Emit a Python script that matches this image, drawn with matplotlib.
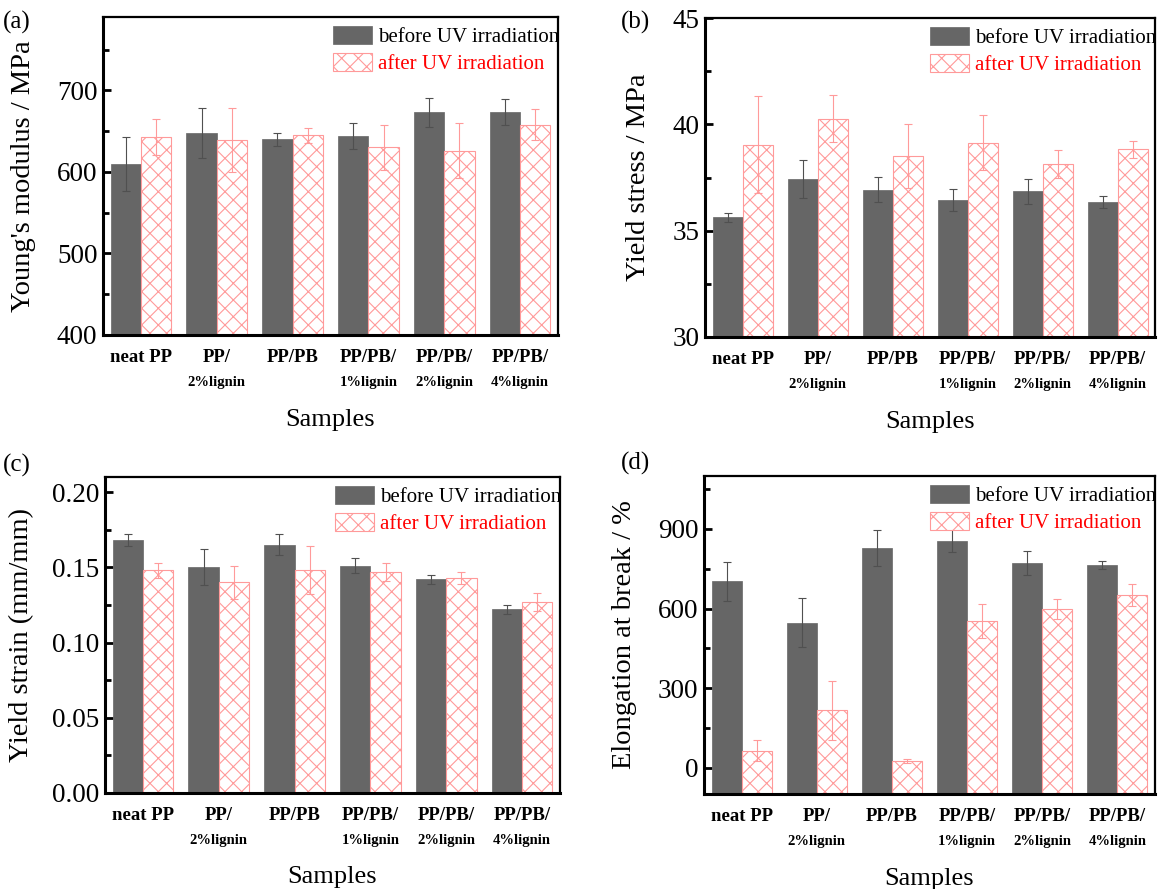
import matplotlib
matplotlib.use("Agg")
import matplotlib.pyplot as plt
import numpy as np
from matplotlib.ticker import MultipleLocator, FormatStrFormatter

plt.rcParams['font.family'] = ['Liberation Serif', 'DejaVu Serif']
plt.rcParams['hatch.linewidth'] = 0.8

# ---- data ----
cat_line1 = ["neat PP", "PP/", "PP/PB", "PP/PB/", "PP/PB/", "PP/PB/"]
cat_line2 = ["", "2%lignin", "", "1%lignin", "2%lignin", "4%lignin"]

modulus_before = [610, 648, 640, 644, 673, 674]
modulus_before_err = [33, 31, 8, 16, 18, 16]
modulus_after = [643, 639, 645, 630, 626, 658]
modulus_after_err = [22, 39, 9, 28, 34, 19]

stress_before = [35.62, 37.43, 36.93, 36.44, 36.85, 36.35]
stress_before_err = [0.2, 0.9, 0.6, 0.5, 0.6, 0.3]
stress_after = [39.05, 40.27, 38.52, 39.13, 38.14, 38.82]
stress_after_err = [2.3, 1.1, 1.5, 1.3, 0.66, 0.4]

strain_before = [0.168, 0.150, 0.165, 0.151, 0.142, 0.122]
strain_before_err = [0.004, 0.012, 0.007, 0.005, 0.003, 0.003]
strain_after = [0.148, 0.140, 0.148, 0.147, 0.143, 0.127]
strain_after_err = [0.005, 0.011, 0.016, 0.006, 0.004, 0.006]

elong_before = [702, 547, 827, 856, 772, 765]
elong_before_err = [73, 91, 68, 43, 45, 15]
elong_after = [63, 216, 25, 552, 598, 652]
elong_after_err = [40, 112, 8, 64, 36, 42]

DARK = '#666666'
PINK = '#ff9a9a'

fig = plt.figure(figsize=(11.6, 8.89), dpi=100)


def panel(rect, before, berr, after, aerr, ylim, major, minor, fmt,
          ylabel, letter, ylabel_x, letter_xy):
    ax = fig.add_axes(rect)
    x = np.arange(1, len(before) + 1)
    w = 0.4
    y0 = ylim[0]
    ax.bar(x - w / 2, np.array(before) - y0, w, bottom=y0, color=DARK,
           edgecolor=DARK, linewidth=0.5, label='before UV irradiation', zorder=2)
    ax.bar(x + w / 2, np.array(after) - y0, w, bottom=y0, color='white',
           edgecolor=PINK, hatch='xx', linewidth=0.8,
           label='after UV irradiation', zorder=2)
    ax.errorbar(x - w / 2, before, yerr=berr, fmt='none', ecolor='#505050',
                elinewidth=0.8, capsize=3, capthick=0.8, zorder=3)
    ax.errorbar(x + w / 2, after, yerr=aerr, fmt='none', ecolor=PINK,
                elinewidth=0.8, capsize=3, capthick=0.8, zorder=3)
    ax.set_xlim(0.5, len(before) + 0.5)
    ax.set_ylim(*ylim)
    ax.yaxis.set_major_locator(MultipleLocator(major))
    ax.yaxis.set_minor_locator(MultipleLocator(minor))
    ax.yaxis.set_major_formatter(FormatStrFormatter(fmt))
    ax.set_xticks([])
    ax.tick_params(axis='y', which='major', direction='in', length=6, width=2,
                   labelsize=19.5, pad=4)
    ax.tick_params(axis='y', which='minor', direction='in', length=4, width=2)
    for s in ['left', 'bottom']:
        ax.spines[s].set_linewidth(2.2)
    for s in ['top', 'right']:
        ax.spines[s].set_linewidth(1.6)
    trans = ax.get_xaxis_transform()
    for xi, l1, l2 in zip(x, cat_line1, cat_line2):
        ax.text(xi, -0.072, l1, transform=trans, ha='center', va='center',
                fontsize=13.5, fontweight='bold')
        if l2:
            ax.text(xi, -0.15, l2, transform=trans, ha='center', va='center',
                    fontsize=10.5, fontweight='bold')
    ax.text(0.5, -0.267, 'Samples', transform=ax.transAxes, ha='center',
            va='center', fontsize=19)
    ax.set_ylabel(ylabel, fontsize=20.5)
    ax.yaxis.set_label_coords(ylabel_x, 0.5)
    fig.text(letter_xy[0], letter_xy[1], letter, fontsize=18, ha='left', va='center')
    leg = ax.legend(loc='upper right', bbox_to_anchor=(1.012, 0.985),
                    frameon=False, fontsize=15,
                    borderaxespad=0.0, borderpad=0.2, handlelength=1.85,
                    handleheight=0.95, handletextpad=0.3, labelspacing=0.3)
    leg.get_texts()[1].set_color('red')
    return ax


panel([103 / 1160, 1 - 335 / 889, 455 / 1160, 318 / 889],
      modulus_before, modulus_before_err, modulus_after, modulus_after_err,
      (400, 790), 100, 50, '%d', 'Young\'s modulus / MPa', '(a)', -0.147,
      (3 / 1160, 1 - 22 / 889))

panel([705 / 1160, 1 - 337 / 889, 450 / 1160, 319 / 889],
      stress_before, stress_before_err, stress_after, stress_after_err,
      (30, 45), 5, 2.5, '%d', 'Yield stress / MPa', '(b)', -0.12,
      (621 / 1160, 1 - 22 / 889))

panel([105 / 1160, 1 - 793 / 889, 455 / 1160, 316 / 889],
      strain_before, strain_before_err, strain_after, strain_after_err,
      (0, 0.21), 0.05, 0.025, '%.2f', 'Yield strain (mm/mm)', '(c)', -0.156,
      (3 / 1160, 1 - 465 / 889))

panel([704 / 1160, 1 - 794 / 889, 451 / 1160, 318 / 889],
      elong_before, elong_before_err, elong_after, elong_after_err,
      (-100, 1100), 300, 150, '%d', 'Elongation at break / %', '(d)', -0.149,
      (621 / 1160, 1 - 463 / 889))

fig.savefig('out.png', dpi=100)
